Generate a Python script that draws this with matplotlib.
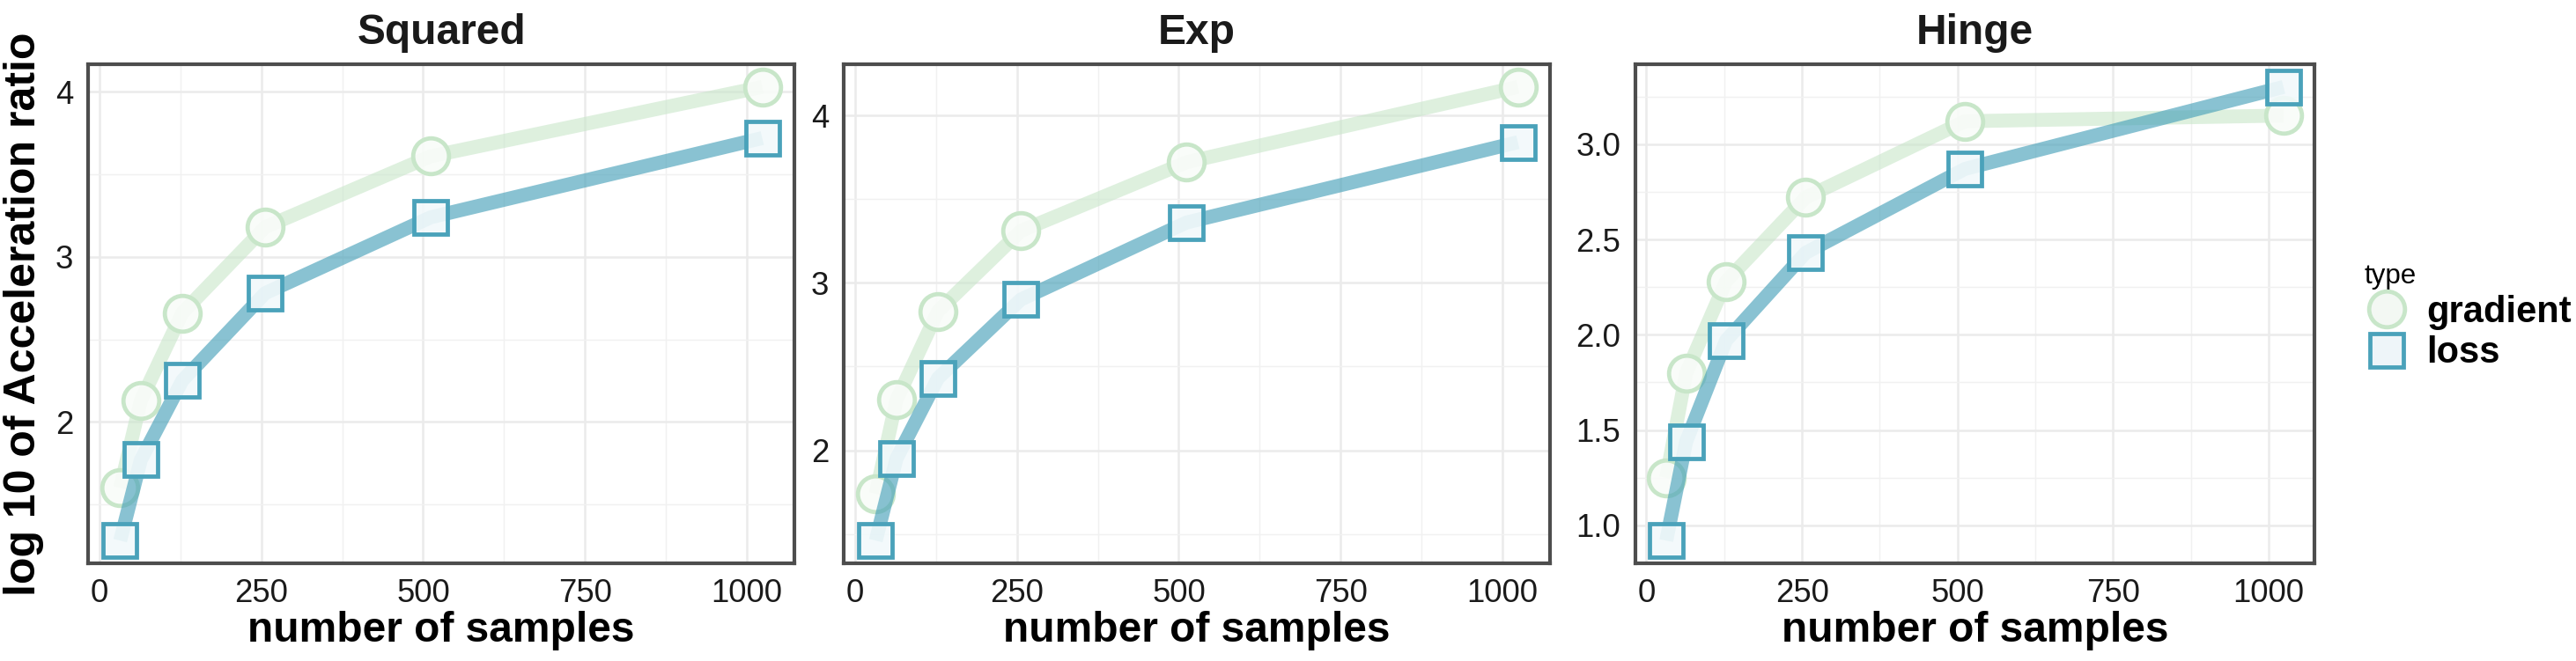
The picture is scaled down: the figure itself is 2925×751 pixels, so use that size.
import matplotlib
matplotlib.use('Agg')
import matplotlib.pyplot as plt
from matplotlib.lines import Line2D
from matplotlib.ticker import MultipleLocator, FormatStrFormatter

plt.rcParams['font.family'] = ['Liberation Sans', 'DejaVu Sans']

# number of samples (x axis), shared by all panels
samples = [32, 64, 128, 256, 512, 1024]

# log10 of acceleration ratio
squared_gradient = [1.60, 2.13, 2.66, 3.18, 3.61, 4.03]
squared_loss = [1.28, 1.77, 2.25, 2.78, 3.24, 3.72]
exp_gradient = [1.74, 2.30, 2.83, 3.31, 3.72, 4.17]
exp_loss = [1.46, 1.95, 2.43, 2.90, 3.36, 3.84]
hinge_gradient = [1.25, 1.80, 2.28, 2.72, 3.12, 3.15]
hinge_loss = [0.92, 1.44, 1.97, 2.43, 2.87, 3.30]

panel_titles = ['Squared', 'Exp', 'Hinge']
type_labels = ['gradient', 'loss']

grad_col = '#c8e6c9'
grad_face = (0.975, 0.99, 0.975, 0.9)
loss_col = '#4aa2ba'
loss_face = (0.95, 0.975, 0.985, 0.9)
frame_col = '#4d4d4d'

W, H = 2925, 751
fig = plt.figure(figsize=(W / 150, H / 150), dpi=150)

# axes boxes in pixels: left, right
boxes = [(100, 902), (958, 1760), (1857, 2628)]
top, bottom = 73, 640

panels = [
    (squared_gradient, squared_loss, 1.0, 0.5, '%g'),
    (exp_gradient, exp_loss, 1.0, 0.5, '%g'),
    (hinge_gradient, hinge_loss, 0.5, 0.25, '%.1f'),
]

for i, (grad, loss, ymaj, ymin, fmt) in enumerate(panels):
    l, r = boxes[i]
    ax = fig.add_axes([l / W, (H - bottom) / H, (r - l) / W, (bottom - top) / H])

    ax.plot(samples, grad, color=grad_col, alpha=0.6, lw=7.6, solid_capstyle='butt', zorder=2)
    ax.plot(samples, grad, ls='none', marker='o', ms=19.5, mew=2.3,
            mec=grad_col, mfc=grad_face, zorder=3)
    ax.plot(samples, loss, color=loss_col, alpha=0.65, lw=7.6, solid_capstyle='butt', zorder=4)
    ax.plot(samples, loss, ls='none', marker='s', ms=17.8, mew=2.3,
            mec=loss_col, mfc=loss_face, zorder=5)

    ax.margins(x=0.05, y=0.05)
    ax.xaxis.set_major_locator(MultipleLocator(250))
    ax.xaxis.set_minor_locator(MultipleLocator(125))
    ax.yaxis.set_major_locator(MultipleLocator(ymaj))
    ax.yaxis.set_minor_locator(MultipleLocator(ymin))
    ax.yaxis.set_major_formatter(FormatStrFormatter(fmt))

    ax.grid(which='major', color='#ebebeb', lw=1.2, zorder=0)
    ax.grid(which='minor', color='#f1f1f1', lw=0.7, zorder=0)
    ax.set_axisbelow(True)
    ax.tick_params(which='both', length=0, labelsize=17.5, labelcolor='#1a1a1a', pad=8)

    for s in ax.spines.values():
        s.set_color(frame_col)
        s.set_linewidth(2.0)

    ax.set_title(panel_titles[i], fontsize=23, fontweight='bold', color='#1a1a1a', pad=11)
    ax.set_xlabel('number of samples', fontsize=23, fontweight='bold', labelpad=1)
    if i == 0:
        ax.set_ylabel('log 10 of Acceleration ratio', fontsize=24, fontweight='bold', labelpad=6)

handles = [
    Line2D([], [], ls='none', marker='o', ms=19.5, mew=2.3, mec=grad_col, mfc='#f3f8f3'),
    Line2D([], [], ls='none', marker='s', ms=18, mew=2.3, mec=loss_col, mfc='#eef5f9'),
]
leg = fig.legend(handles, type_labels, loc='upper left', bbox_to_anchor=(2668 / W, (H - 282) / H),
                 frameon=False, title='type', alignment='left', prop={'size': 20, 'weight': 'bold'},
                 title_fontsize=15, handletextpad=0.5, labelspacing=0.15, handlelength=1.2,
                 borderaxespad=0)

fig.savefig('out.png', dpi=150, facecolor='white')
